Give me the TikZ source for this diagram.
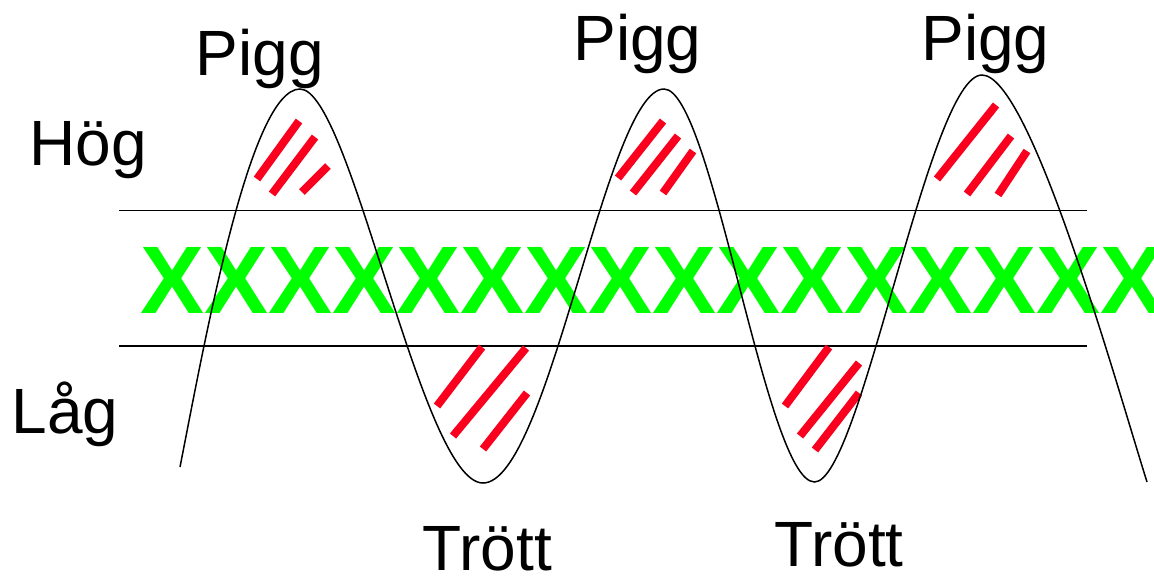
\documentclass[tikz,border=0pt]{standalone}
\usepackage{fontspec}
\setmainfont{Liberation Sans}
\newfontfamily\xfont{Liberation Sans Bold}
\definecolor{hatchred}{RGB}{250,0,30}
\definecolor{xgreen}{RGB}{0,255,0}
\begin{document}
\begin{tikzpicture}[x=1pt,y=-1pt,
  lbl/.style={font=\fontsize{64}{64}\selectfont, inner sep=0pt, anchor=base},
  band/.style={line width=1.6pt},
  hatch/.style={draw=hatchred, line width=8pt},
  wave/.style={line width=1.5pt}]
\useasboundingbox (0,0) rectangle (1154,579);
\fill[white] (0,0) rectangle (1154,579);
% band lines
\draw[band] (119,210.5) -- (1087,210.5);
\draw[band] (119,346) -- (1087,346);
% green X row
\node[font=\xfont\fontsize{96}{96}\selectfont, text=xgreen, inner sep=0pt, anchor=base west] (xs) at (140,313) {XXXXXXXXXXXXXXXX};
% red hatches
\draw[hatch] (299,121) -- (257,179);
\draw[hatch] (315,137) -- (272,194);
\draw[hatch] (328,166) -- (302,192);
\draw[hatch] (482,347) -- (437,406);
\draw[hatch] (526,348) -- (453,436);
\draw[hatch] (527,393) -- (483,449);
\draw[hatch] (663,121) -- (618,178);
\draw[hatch] (678,136) -- (633,193);
\draw[hatch] (693,151) -- (663,193);
\draw[hatch] (829,347) -- (785,406);
\draw[hatch] (859,363) -- (800,436);
\draw[hatch] (859,393) -- (815,450);
\draw[hatch] (996,105) -- (937,179);
\draw[hatch] (1011,136) -- (967,194);
\draw[hatch] (1027,151) -- (998,195);
% wave
\draw[wave] (180,467) .. controls (205,340) and (250,89) .. (300,89)
 .. controls (351,89) and (421.3,483) .. (483,483)
 .. controls (548.6,483) and (606.7,89) .. (664,89)
 .. controls (712,89) and (765.9,482) .. (814.5,482)
 .. controls (860.7,482) and (929,75) .. (982,75)
 .. controls (1030,75) and (1115,380) .. (1147,482);
% labels
\node[lbl] (pigg1) at (260,75) {Pigg};
\node[lbl] (pigg2) at (637.5,60) {Pigg};
\node[lbl] (pigg3) at (985.5,60) {Pigg};
\node[lbl] (hog) at (88,165) {Hög};
\node[lbl] (lag) at (65,433) {Låg};
\node[lbl] (trott1) at (487.5,570) {Trött};
\node[lbl] (trott2) at (839,566) {Trött};
\end{tikzpicture}
\end{document}
